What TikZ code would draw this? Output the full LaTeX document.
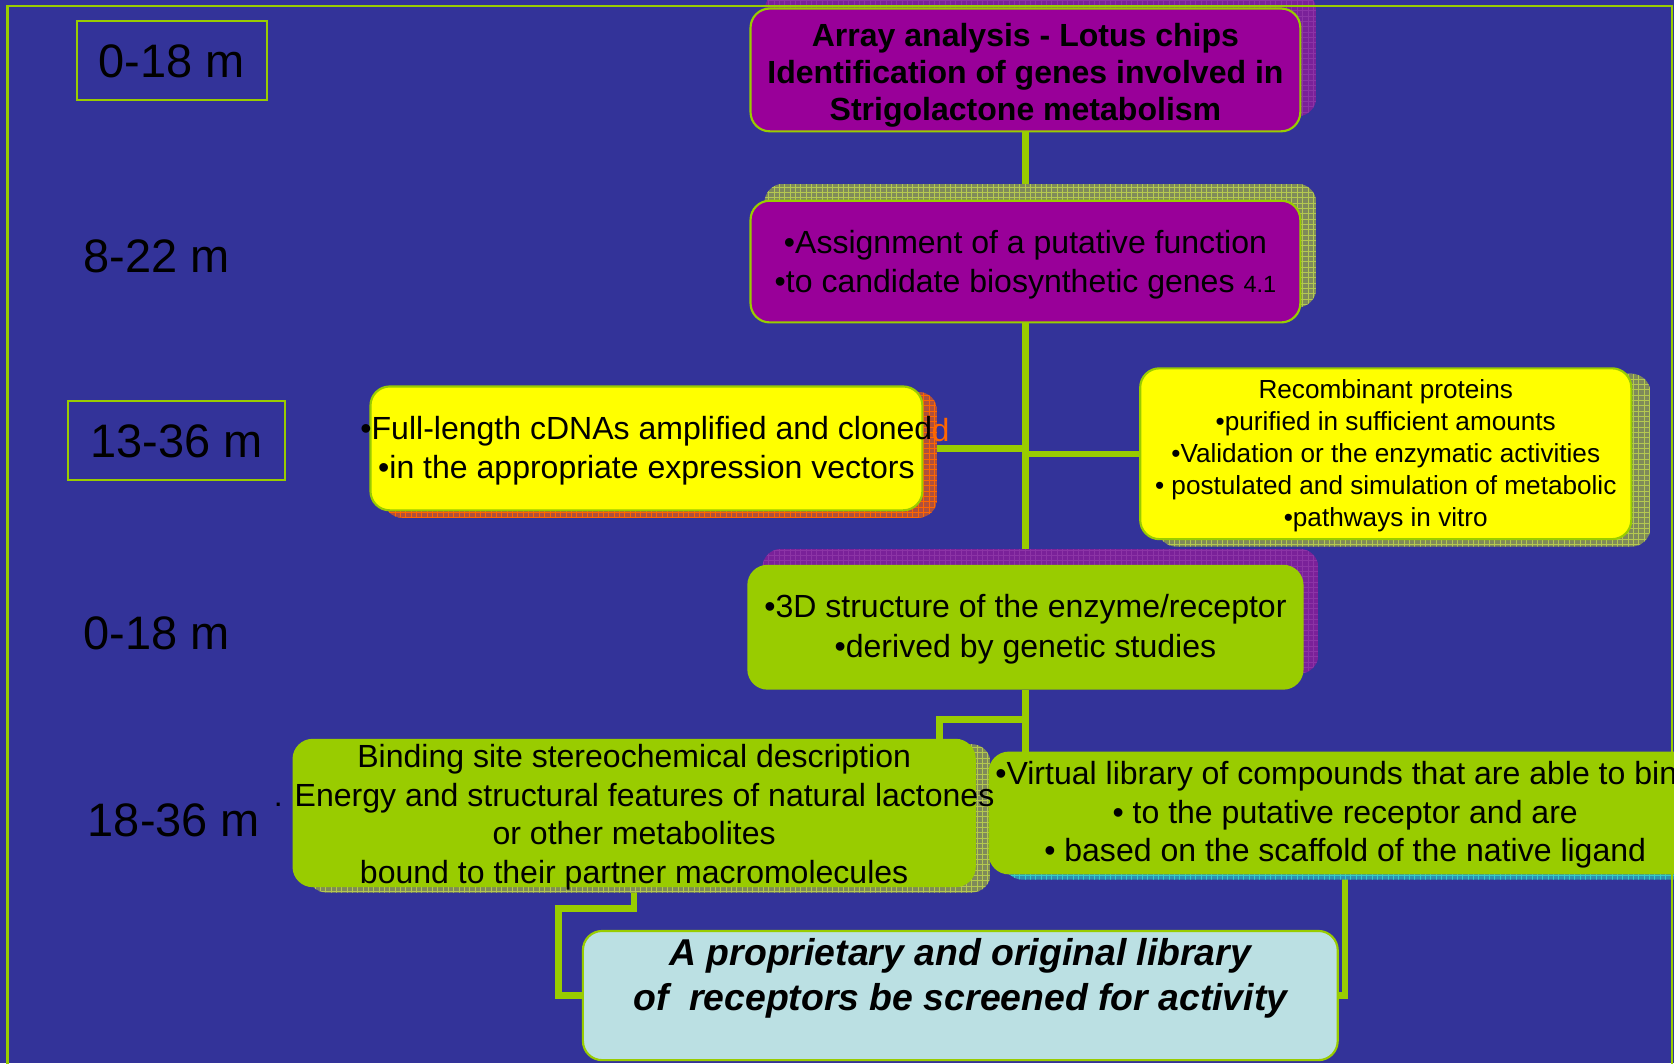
\documentclass[tikz,border=0pt]{standalone}
\usepackage{fontspec}
\setmainfont{Liberation Sans}
\usetikzlibrary{calc}

\definecolor{bgblue}{HTML}{333399}
\definecolor{leafgreen}{HTML}{99CC00}
\definecolor{plum}{HTML}{990099}
\definecolor{lemon}{HTML}{FFFF00}
\definecolor{paleblue}{HTML}{BBE0E3}
\definecolor{plumshade}{HTML}{7A2199}
\definecolor{plumgrid}{HTML}{8C34A6}
\definecolor{oliveshade}{HTML}{7F8A5A}
\definecolor{olivegrid}{HTML}{B4C850}
\definecolor{rustshade}{HTML}{B0503C}
\definecolor{rustgrid}{HTML}{FF6600}
\definecolor{tealshade}{HTML}{2E8FB0}
\definecolor{tealgrid}{HTML}{33CCCC}
\definecolor{ghostorange}{HTML}{FF6600}

\pgfdeclarelayer{back}
\pgfdeclarelayer{shade}
\pgfdeclarelayer{rim}
\pgfsetlayers{back,shade,rim,main}

% rounded drop shadow filled with a fine grid
\newcommand\gridshadow[4]{%
  \begin{scope}
    \clip[rounded corners=18pt] #1 rectangle #2;
    \fill[#3] #1 rectangle #2;
    \draw[#4, line width=0.6pt, step=5pt] #1 grid #2;
  \end{scope}}

\tikzset{
  panel/.style={rectangle, rounded corners=18pt, draw=leafgreen, line width=2pt, inner sep=0pt},
  txt/.style={align=center, text=black, inner sep=0pt, font=\fontsize{30}{36}\selectfont},
  lbl/.style={text=black, inner sep=0pt, font=\fontsize{44}{52}\selectfont},
  tagbox/.style={draw=leafgreen, line width=2pt},
  link/.style={draw=leafgreen, line width=6pt}
}

\begin{document}
\begin{tikzpicture}[x=1pt, y=-1pt]
\useasboundingbox (0,0) rectangle (1568,996);

% boxes
\node[panel, fill=plum, minimum width=515pt, minimum height=115pt] (b1) at (960.5,65.5) {};
\node[panel, fill=plum, minimum width=515pt, minimum height=114pt] (b2) at (960.5,245) {};
\node[panel, fill=lemon, minimum width=517pt, minimum height=116pt] (b3) at (605.5,420) {};
\node[panel, fill=lemon, minimum width=460pt, minimum height=160pt] (b4) at (1298,425) {};
\node[panel, fill=leafgreen, minimum width=519pt, minimum height=115pt] (b5) at (960.5,587.5) {};
\node[panel, fill=leafgreen, minimum width=638pt, minimum height=137pt] (b6) at (594,761.5) {};
\node[panel, fill=leafgreen, minimum width=666pt, minimum height=113pt] (b7) at (1260,761.5) {};
\node[panel, fill=paleblue, minimum width=707pt, minimum height=121pt] (b8) at (899.5,932.5) {};

% box texts
\node[txt, font=\fontsize{30}{35}\selectfont\bfseries, yshift=-5pt] (t1) at (b1.center)
  {Array analysis - Lotus chips\\Identification of genes involved in\\Strigolactone metabolism};
\node[txt, yshift=-3pt] (t2) at (b2.center)
  {•Assignment of a putative function\\•to candidate biosynthetic genes {\fontsize{22}{36}\selectfont 4.1}};
\node[txt, font=\fontsize{30}{37}\selectfont, yshift=-2pt] (t3) at (b3.center)
  {•Full-length cDNAs amplified and cloned\\•in the appropriate expression vectors};
\node[txt, font=\fontsize{24.5}{30}\selectfont, yshift=-1.5pt] (t4) at (b4.center)
  {Recombinant proteins\\•purified in sufficient amounts\\•Validation or the enzymatic activities\\• postulated and simulation of metabolic\\•pathways in vitro};
\node[txt, font=\fontsize{30}{37}\selectfont, yshift=-2pt] (t5) at (b5.center)
  {•3D structure of the enzyme/receptor\\•derived by genetic studies};
\node[txt, yshift=-4pt] (t6) at (b6.center)
  {Binding site stereochemical description\\. Energy and structural features of natural lactones\\or other metabolites\\bound to their partner macromolecules};
\node[txt, yshift=-2pt] (t7) at (b7.center)
  {•Virtual library of compounds that are able to bind\\• to the putative receptor and are\\• based on the scaffold of the native ligand};
\node[txt, font=\fontsize{35}{42}\selectfont\bfseries\itshape, yshift=16.5pt] (t8) at (b8.center)
  {A proprietary and original library\\of\ \ receptors be screened for activity};

% time labels
\node[lbl, tagbox, minimum width=178pt, minimum height=74pt] (l1) at (161,57) {0-18 m};
\node[lbl] (l2) at (146.5,240) {8-22 m};
\node[lbl, tagbox, minimum width=203pt, minimum height=74pt] (l3) at (165.5,413) {13-36 m};
\node[lbl] (l4) at (146.5,593) {0-18 m};
\node[lbl] (l5) at (163,768) {18-36 m};

% background and connectors
\begin{pgfonlayer}{back}
  \fill[bgblue] (0,0) rectangle (1568,996);
  \draw[link] (b1.south) -- (b2.north);
  \draw[link] (b2.south) -- (b5.north);
  \draw[link] (b3.east) -- (b3.east -| b2.south);
  \draw[link] (b4.west) -- (b4.west -| b2.south);
  \draw[link] (b5.south) -- (b5.south |- b7.north);
  \coordinate (fork) at (960.5,674);
  \coordinate (elbow) at (880,674);
  \draw[link] (fork) -- (elbow) -- (elbow |- b6.north);
  \coordinate (bend) at (523,851);
  \draw[link] (b6.south) |- (bend) |- (b8.west);
  \draw[link] (b7.south) |- (b8.east);
\end{pgfonlayer}

% drop shadows
\begin{pgfonlayer}{shade}
  \gridshadow{([shift={(14,-15)}]b1.north west)}{([shift={(14,-15)}]b1.south east)}{plumshade}{plumgrid}
  \gridshadow{([shift={(14,-15)}]b2.north west)}{([shift={(14,-15)}]b2.south east)}{oliveshade}{olivegrid}
  \gridshadow{([shift={(13,6)}]b3.north west)}{([shift={(13,6)}]b3.south east)}{rustshade}{rustgrid}
  \gridshadow{([shift={(17,6)}]b4.north west)}{([shift={(17,6)}]b4.south east)}{oliveshade}{olivegrid}
  \gridshadow{([shift={(14,-15)}]b5.north west)}{([shift={(14,-15)}]b5.south east)}{plumshade}{plumgrid}
  \gridshadow{([shift={(14,5)}]b6.north west)}{([shift={(14,5)}]b6.south east)}{oliveshade}{olivegrid}
  \gridshadow{([shift={(14,5)}]b7.north west)}{([shift={(14,5)}]b7.south east)}{tealshade}{tealgrid}
  \node[text=ghostorange, inner sep=0pt, font=\fontsize{30}{36}\selectfont] (ghost) at (881,403) {d};
\end{pgfonlayer}

% outer frame
\begin{pgfonlayer}{rim}
  \draw[leafgreen, line width=2pt] (7,1010) -- (7,6) -- (1566,6) -- (1566,1010);
\end{pgfonlayer}
\end{tikzpicture}
\end{document}
